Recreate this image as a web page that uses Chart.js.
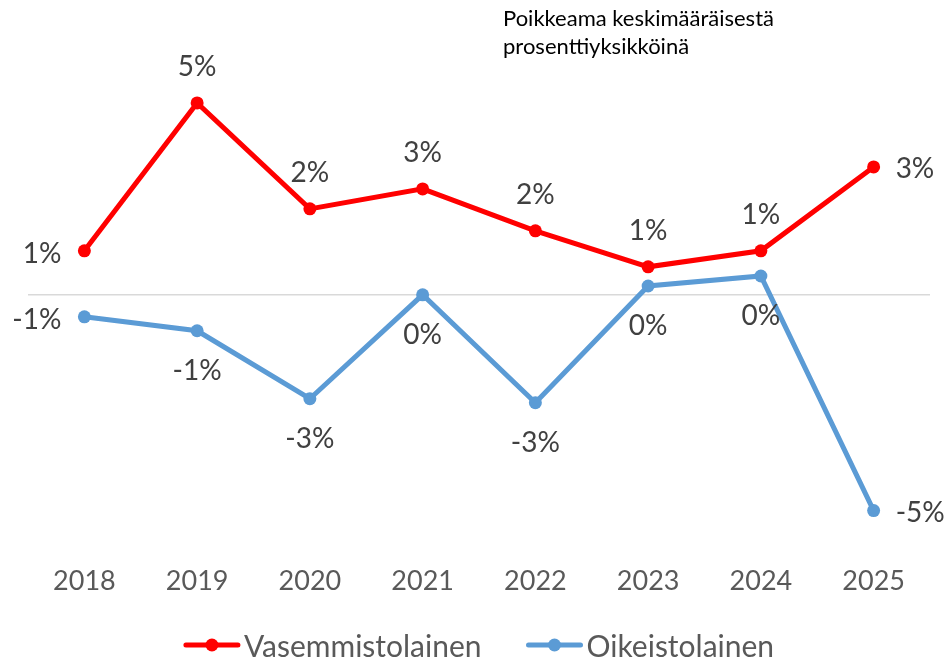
<!DOCTYPE html>
<html>
<head>
<meta charset="utf-8">
<script src="https://cdn.jsdelivr.net/npm/chart.js@4/dist/chart.umd.min.js"></script>
<style>
  html, body { margin: 0; padding: 0; background: #fff; }
  #wrap { position: relative; width: 948px; height: 659px; }
</style>
</head>
<body>
<div id="wrap"><canvas id="chart" width="948" height="659"></canvas></div>
<script>
// ── data ───────────────────────────────────────
const years = ["2018", "2019", "2020", "2021", "2022", "2023", "2024", "2025"];
const vasemmisto = [1.1, 4.8, 2.15, 2.65, 1.6, 0.7, 1.1, 3.2];
const oikeisto   = [-0.55, -0.9, -2.6, 0.0, -2.7, 0.22, 0.47, -5.4];
const seriesNames = ["Vasemmistolainen", "Oikeistolainen"];
const noteLines = ["Poikkeama keskimääräisestä", "prosenttiyksikköinä"];

// label placement per point
const redPos  = ["left", "above", "above", "above", "above", "above", "above", "right"];
const bluePos = ["left", "below", "below", "below", "below", "below", "below", "right"];

const RED  = "#FF0000";
const BLUE = "#5B9BD5";
const FONT = "Lato, 'Open Sans', sans-serif";

// ── data labels ────────────────────────────────
const valueLabels = {
  id: "valueLabels",
  afterDatasetsDraw(chart) {
    const ctx = chart.ctx;
    ctx.save();
    ctx.font = `28px ${FONT}`;
    ctx.fillStyle = "#404040";
    chart.data.datasets.forEach((ds, di) => {
      const pos = di === 0 ? redPos : bluePos;
      chart.getDatasetMeta(di).data.forEach((pt, i) => {
        const txt = `${Math.round(ds.data[i])}%`;
        let x = pt.x, y = pt.y;
        ctx.textBaseline = "middle";
        if (pos[i] === "above") { ctx.textAlign = "center"; y -= 36; }
        else if (pos[i] === "below") { ctx.textAlign = "center"; y += 40; }
        else if (pos[i] === "left") { ctx.textAlign = "right"; x -= 23; y += 3; }
        else { ctx.textAlign = "left"; x += 22; y += 2; }
        ctx.fillText(txt, x, y);
      });
    });
    ctx.restore();
  }
};

// ── note + legend ──────────────────────────────
const extras = {
  id: "extras",
  afterDraw(chart) {
    const ctx = chart.ctx;
    ctx.save();
    ctx.font = `22px ${FONT}`;
    ctx.fillStyle = "#000";
    ctx.textAlign = "left";
    ctx.textBaseline = "middle";
    noteLines.forEach((t, i) => ctx.fillText(t, 503, 19 + i * 28));

    ctx.font = `30px ${FONT}`;
    const colors = [RED, BLUE];
    const lineW = 56, gap = 4, between = 45;
    const widths = seriesNames.map(n => ctx.measureText(n).width);
    const total = widths.reduce((a, w) => a + lineW + gap + w, 0) + between;
    let x = (chart.width - total) / 2 + 5;
    const y = 645;
    seriesNames.forEach((n, i) => {
      ctx.strokeStyle = colors[i];
      ctx.lineWidth = 5;
      ctx.lineCap = "round";
      ctx.beginPath();
      ctx.moveTo(x + 2, y);
      ctx.lineTo(x + lineW - 2, y);
      ctx.stroke();
      ctx.fillStyle = colors[i];
      ctx.beginPath();
      ctx.arc(x + lineW / 2, y, 6.5, 0, Math.PI * 2);
      ctx.fill();
      ctx.fillStyle = "#595959";
      ctx.fillText(n, x + lineW + gap, y + 2);
      x += lineW + gap + widths[i] + between;
    });
    ctx.restore();
  }
};

new Chart(document.getElementById("chart"), {
  type: "line",
  data: {
    labels: years,
    datasets: [
      { label: seriesNames[0], data: vasemmisto, borderColor: RED, backgroundColor: RED,
        borderWidth: 5, pointRadius: 6.5, pointBorderWidth: 0, tension: 0 },
      { label: seriesNames[1], data: oikeisto, borderColor: BLUE, backgroundColor: BLUE,
        borderWidth: 5, pointRadius: 6.5, pointBorderWidth: 0, tension: 0 },
    ],
  },
  options: {
    responsive: false,
    animation: false,
    layout: { padding: { left: 28, right: 18, top: 55, bottom: 32 } },
    plugins: { legend: { display: false }, tooltip: { enabled: false } },
    scales: {
      x: {
        offset: true,
        grid: { display: false, drawTicks: false },
        border: { display: false },
        ticks: { color: "#595959", font: { family: FONT, size: 27 }, padding: 30, maxRotation: 0 },
      },
      y: {
        min: -6, max: 6,
        ticks: { display: false, stepSize: 1 },
        grid: { drawTicks: false, lineWidth: 1.5, color: c => c.tick && c.tick.value === 0 ? "#D9D9D9" : "rgba(0,0,0,0)" },
        border: { display: false },
      },
    },
  },
  plugins: [valueLabels, extras],
});
</script>
</body>
</html>
